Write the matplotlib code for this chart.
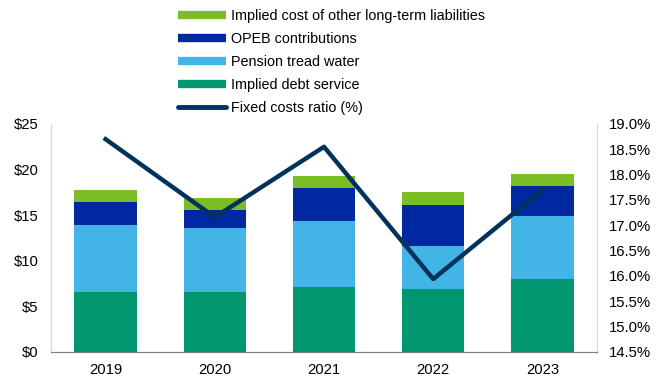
import matplotlib
matplotlib.use("Agg")
import matplotlib.pyplot as plt
from matplotlib.lines import Line2D
from matplotlib.ticker import FuncFormatter

plt.rcParams['font.family'] = ['Liberation Sans', 'DejaVu Sans']

years = ["2019", "2020", "2021", "2022", "2023"]
debt_service = [6.55, 6.55, 7.13, 6.95, 8.04]
pension = [7.35, 7.0, 7.27, 4.65, 6.86]
opeb = [2.6, 2.05, 3.6, 4.55, 3.3]
other_liab = [1.3, 1.25, 1.3, 1.35, 1.35]
fixed_ratio = [18.70, 17.16, 18.55, 15.94, 17.70]

c_debt = "#00966F"
c_pension = "#42B4E6"
c_opeb = "#0028A0"
c_other = "#7BBD25"
c_line = "#00335C"

fs = 10.7
lfs = 10.4

fig = plt.figure(figsize=(6.65, 3.79), dpi=100)
ax = fig.add_axes([51/665, 1-352/379, (597-51)/665, (352-124)/379])

x = list(range(len(years)))
w = 0.57
b1 = debt_service
b2 = [a + b for a, b in zip(b1, pension)]
b3 = [a + b for a, b in zip(b2, opeb)]
ax.bar(x, debt_service, w, color=c_debt, zorder=2)
ax.bar(x, pension, w, bottom=b1, color=c_pension, zorder=2)
ax.bar(x, opeb, w, bottom=b2, color=c_opeb, zorder=2)
ax.bar(x, other_liab, w, bottom=b3, color=c_other, zorder=2)

ax.set_xlim(-0.5, 4.5)
ax.set_ylim(0, 25)
ax.set_yticks(range(0, 26, 5))
ax.yaxis.set_major_formatter(FuncFormatter(lambda v, p: "${:d}".format(int(v))))
ax.set_xticks(x)
ax.set_xticklabels(years)
ax.tick_params(axis='y', length=0, labelsize=fs, pad=9)
ax.tick_params(axis='x', length=0, labelsize=fs, pad=8)

ax2 = ax.twinx()
ax2.plot(x, fixed_ratio, color=c_line, lw=3.2, zorder=5)
ax2.set_ylim(14.5, 19.0)
ax2.set_yticks([14.5 + 0.5 * i for i in range(10)])
ax2.yaxis.set_major_formatter(FuncFormatter(lambda v, p: "{:.1f}%".format(v)))
ax2.tick_params(length=0, labelsize=fs, pad=8.5)

for a in (ax, ax2):
    a.spines['top'].set_visible(False)
    a.spines['left'].set_color("#d9d9d9")
    a.spines['right'].set_color("#d9d9d9")
    a.spines['bottom'].set_color("#808080")

handles = [
    Line2D([], [], color=c_other, lw=6, solid_capstyle='butt'),
    Line2D([], [], color=c_opeb, lw=6, solid_capstyle='butt'),
    Line2D([], [], color=c_pension, lw=6, solid_capstyle='butt'),
    Line2D([], [], color=c_debt, lw=6, solid_capstyle='butt'),
    Line2D([], [], color=c_line, lw=3.5, solid_capstyle='round'),
]
labels = ["Implied cost of other long-term liabilities", "OPEB contributions",
          "Pension tread water", "Implied debt service", "Fixed costs ratio (%)"]
fig.legend(handles, labels, loc="upper left", bbox_to_anchor=(171/665, 1-2/379),
           frameon=False, fontsize=lfs, handlelength=3.3, handletextpad=0.33,
           labelspacing=0.62, borderpad=0)

plt.savefig("out.png", dpi=100)
